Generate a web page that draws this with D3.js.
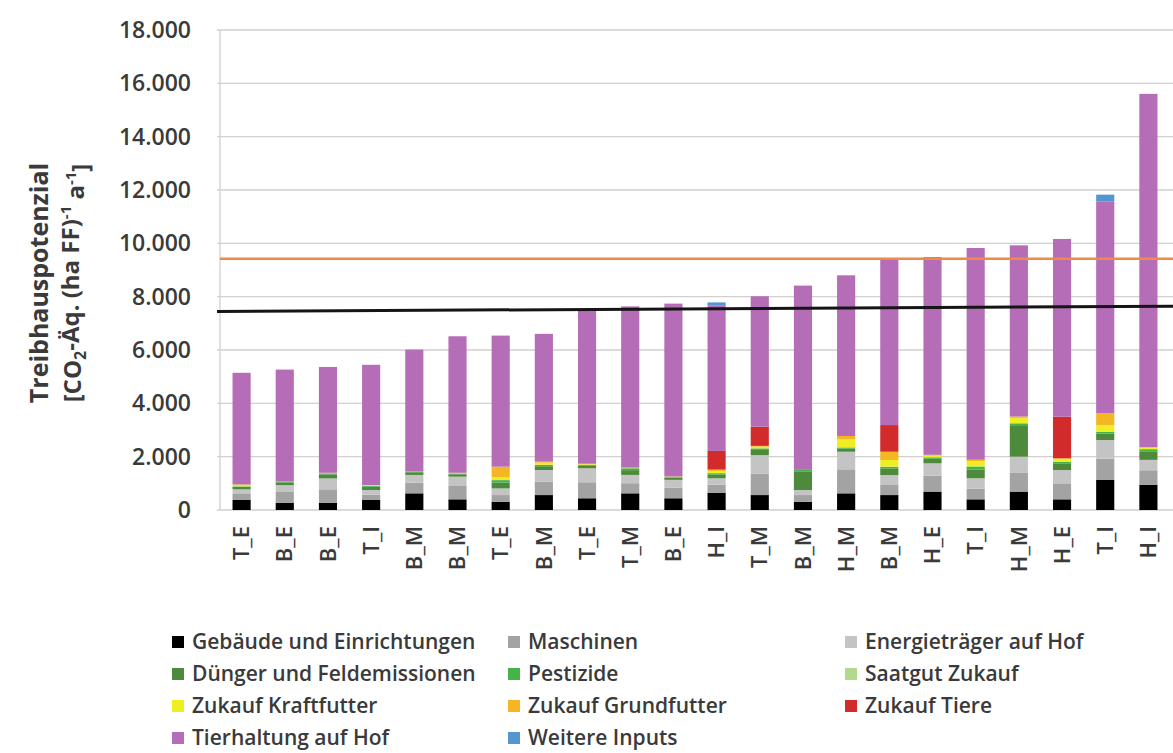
<!DOCTYPE html>
<meta charset="utf-8">
<style>
    body { margin: 0; background: #fff; }
    text { font-family: "Open Sans", sans-serif; fill: #3a3a3a; }
    .grid line { stroke: #d4cece; stroke-width: 1.3px; }
</style>
<svg width="1173" height="753"></svg>
<script src="https://d3js.org/d3.v7.min.js"></script>
<script>
    // farm types along the x axis
    const categories = ["T_E","B_E","B_E","T_I","B_M","B_M","T_E","B_M","T_E","T_M","B_E",
                        "H_I","T_M","B_M","H_M","B_M","H_E","T_I","H_M","H_E","T_I","H_I"];

    // emission sources, kg CO2-eq per ha and year
    const gebaeude    = [375,275,275,375,625,400,310,560,440,625,440,650,560,310,625,560,690,400,690,400,1125,940];
    const maschinen   = [250,400,500,200,400,500,250,500,600,380,400,300,800,250,900,400,600,400,700,600,800,550];
    const energie     = [150,260,410,175,290,350,250,440,525,310,290,240,700,190,660,350,460,390,610,500,700,390];
    const duenger     = [90,100,150,120,100,90,220,140,90,180,70,130,190,700,120,250,170,330,1150,230,240,300];
    const pestizide   = [20,25,40,40,30,30,90,50,35,70,30,60,60,50,40,60,55,110,100,80,70,100];
    const saatgut     = [5,5,5,5,5,5,5,5,5,5,5,5,5,5,5,5,5,5,5,5,5,5];
    const kraftfutter = [30,0,15,20,0,20,100,80,20,20,20,80,60,0,300,250,60,200,200,100,250,50];
    const grundfutter = [40,0,0,0,0,0,400,40,20,0,0,50,30,0,125,310,30,50,50,25,440,25];
    const tiere       = [0,0,0,0,0,0,0,0,0,0,0,700,720,0,0,1000,0,0,0,1560,0,0];
    const tierhaltung = [4185,4200,3970,4510,4565,5120,4915,4790,5780,6045,6485,5445,4890,6910,6025,6240,7415,7940,6420,6665,7945,13245];
    const weitere     = [0,0,0,0,0,0,0,0,0,0,0,125,0,0,0,0,0,0,0,0,250,0];

    const yTicks = [0,2000,4000,6000,8000,10000,12000,14000,16000,18000];

    // reference lines (left end, right end)
    const blackLine  = [7445, 7640];
    const orangeLine = [9420, 9420];

    const series = [
        {key: "Gebäude und Einrichtungen", values: gebaeude,    color: "#000000"},
        {key: "Maschinen",                 values: maschinen,   color: "#a3a3a3"},
        {key: "Energieträger auf Hof",     values: energie,     color: "#c4c4c4"},
        {key: "Dünger und Feldemissionen", values: duenger,     color: "#4d8a3c"},
        {key: "Pestizide",                 values: pestizide,   color: "#45b24a"},
        {key: "Saatgut Zukauf",            values: saatgut,     color: "#b3d98c"},
        {key: "Zukauf Kraftfutter",        values: kraftfutter, color: "#eeee22"},
        {key: "Zukauf Grundfutter",        values: grundfutter, color: "#f4b623"},
        {key: "Zukauf Tiere",              values: tiere,       color: "#d22b2b"},
        {key: "Tierhaltung auf Hof",       values: tierhaltung, color: "#b46db6"},
        {key: "Weitere Inputs",            values: weitere,     color: "#5396d0"}
    ];

    let svg = d3.select("svg");

    const plotLeft = 220, plotRight = 1170, plotTop = 30, plotBottom = 510;

    // table for d3.stack, one row per bar
    const rows = categories.map(function(c, i) {
        let r = {idx: i};
        series.forEach(function(s) { r[s.key] = s.values[i]; });
        return r;
    });

    let x = d3.scaleBand()
        .domain(d3.range(categories.length))
        .range([plotLeft, plotRight])
        .paddingInner(0.58)
        .paddingOuter(0.29);

    let y = d3.scaleLinear()
        .domain([0, 18000])
        .range([plotBottom, plotTop]);

    const de = d3.formatLocale({decimal: ",", thousands: ".", grouping: [3], currency: ["", " €"]});

    // gridlines
    svg.append("g")
        .attr("class", "grid")
        .selectAll("line")
        .data(yTicks)
        .enter().append("line")
        .attr("x1", plotLeft - 3)
        .attr("x2", 1173)
        .attr("y1", d => y(d))
        .attr("y2", d => y(d));

    svg.append("line")
        .attr("x1", plotLeft).attr("x2", plotLeft)
        .attr("y1", plotTop).attr("y2", plotBottom)
        .attr("stroke", "#cfcfcf").attr("stroke-width", 1.3);

    // y axis labels
    let yAxis = svg.append("g")
        .attr("transform", "translate(" + (plotLeft - 26) + ",0)")
        .call(d3.axisLeft(y).tickValues(yTicks).tickFormat(de.format(",d")).tickSize(0));
    yAxis.select(".domain").remove();
    yAxis.selectAll("text")
        .style("font-size", "23px")
        .style("font-weight", 600)
        .style("fill", "#3a3a3a");

    // stacked bars
    let stack = d3.stack().keys(series.map(s => s.key));
    let layers = stack(rows);

    svg.append("g")
        .selectAll("g")
        .data(layers)
        .enter().append("g")
        .attr("fill", (d, i) => series[i].color)
        .selectAll("rect")
        .data(d => d)
        .enter().append("rect")
        .attr("x", d => x(d.data.idx))
        .attr("width", x.bandwidth())
        .attr("y", d => y(d[1]))
        .attr("height", d => y(d[0]) - y(d[1]));

    // x labels, rotated
    let xAxis = svg.append("g")
        .attr("transform", "translate(0," + (plotBottom + 16) + ")")
        .call(d3.axisBottom(x).tickFormat(i => categories[i]).tickSize(0));
    xAxis.select(".domain").remove();
    xAxis.selectAll("text")
        .attr("transform", "rotate(-90)")
        .attr("text-anchor", "end")
        .attr("x", 0)
        .attr("y", 0)
        .attr("dy", "0.35em")
        .style("font-size", "22px")
        .style("font-weight", 600)
        .style("fill", "#3a3a3a");

    // reference lines
    svg.append("line")
        .attr("x1", plotLeft).attr("x2", 1173)
        .attr("y1", y(orangeLine[0])).attr("y2", y(orangeLine[1]))
        .attr("stroke", "#ee8a45").attr("stroke-width", 2.5);

    svg.append("line")
        .attr("x1", plotLeft - 3).attr("x2", 1173)
        .attr("y1", y(blackLine[0])).attr("y2", y(blackLine[1]))
        .attr("stroke", "#151515").attr("stroke-width", 3);

    // y axis title
    let title = svg.append("text")
        .attr("transform", "translate(39,283) rotate(-90)")
        .attr("text-anchor", "middle")
        .style("font-size", "25px")
        .style("font-weight", 700);
    title.append("tspan")
        .attr("x", 0).attr("dy", "0.35em")
        .text("Treibhauspotenzial");
    let t2 = svg.append("text")
        .attr("transform", "translate(73,283) rotate(-90)")
        .attr("text-anchor", "middle")
        .attr("dy", "0.35em")
        .style("font-size", "24px")
        .style("font-weight", 700);
    t2.append("tspan").text("[CO");
    t2.append("tspan").attr("dy", "0.3em").style("font-size", "16px").text("2");
    t2.append("tspan").attr("dy", "-0.3em").text("-Äq. (ha FF)");
    t2.append("tspan").attr("dy", "-0.55em").style("font-size", "15px").text("-1");
    t2.append("tspan").attr("dy", "0.55em").text(" a");
    t2.append("tspan").attr("dy", "-0.55em").style("font-size", "15px").text("-1");
    t2.append("tspan").attr("dy", "0.55em").text("]");

    // legend, three columns
    const legendCols = [172, 508, 845];
    const legendRows = [642, 674, 706, 738];

    let legend = svg.append("g")
        .selectAll("g")
        .data(series)
        .enter().append("g")
        .attr("transform", (d, i) => "translate(" + legendCols[i % 3] + "," + legendRows[Math.floor(i / 3)] + ")");

    legend.append("rect")
        .attr("x", 0).attr("y", -6)
        .attr("width", 12).attr("height", 12)
        .attr("fill", d => d.color);

    legend.append("text")
        .attr("x", 20)
        .attr("dy", "0.35em")
        .style("font-size", "21px")
        .style("font-weight", 600)
        .text(d => d.key);
</script>
<body>
</body>
